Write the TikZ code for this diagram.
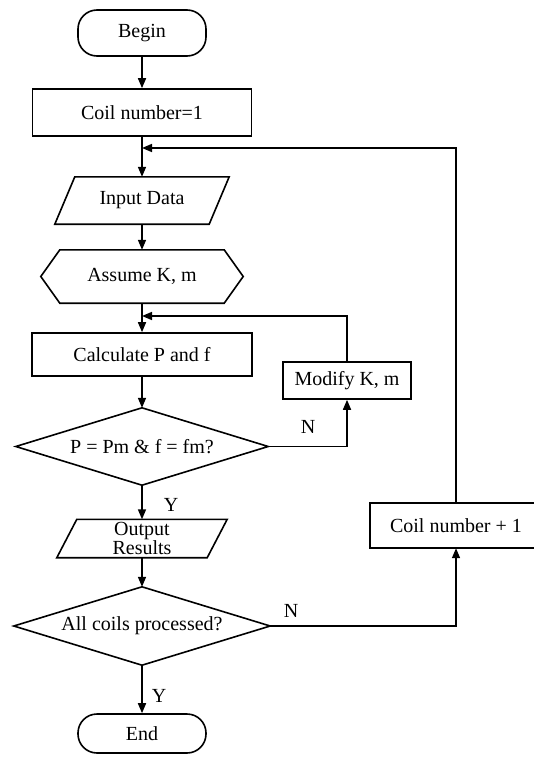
\documentclass[tikz,border=0pt]{standalone}
\usepackage{fontspec}
\setmainfont{Liberation Serif}
\usetikzlibrary{arrows.meta}
\begin{document}
\begin{tikzpicture}[x=1pt,y=-1pt,
  every node/.style={font=\fontsize{20}{19}\selectfont, inner sep=0pt},
  lw/.style={line width=1.6pt},
  term/.style={draw, lw, rectangle, rounded corners=19pt, minimum width=128pt},
  boxnode/.style={draw, lw, rectangle},
  plainnode/.style={rectangle},
  arr/.style={lw, -{Triangle[length=10pt,width=8pt]}},
  shapeline/.style={lw, line join=miter}
]
\useasboundingbox (0,0) rectangle (534,760);
\clip (0,0) rectangle (534,760);

% main column
\node[term, minimum height=46pt] (begin) at (142,33) {Begin};
\node[boxnode, minimum width=219pt, minimum height=47pt] (c1) at (142,112.5) {Coil number=1};
\coordinate (j1) at (142,148);
\node[plainnode, minimum width=154pt, minimum height=47pt] (in) at (142,200.5) {Input Data};
\draw[shapeline] ([xshift=10pt]in.north west) -- ([xshift=10pt]in.north east)
  -- ([xshift=-10pt]in.south east) -- ([xshift=-10pt]in.south west) -- cycle;
\node[plainnode, minimum width=164pt, minimum height=53pt] (hex) at (142,276.5) {Assume K, m};
\draw[shapeline] (hex.north west) -- (hex.north east) -- ([xshift=19pt]hex.east)
  -- (hex.south east) -- (hex.south west) -- ([xshift=-19pt]hex.west) -- cycle;
\coordinate (j2) at (142,316);
\node[boxnode, minimum width=220pt, minimum height=43pt] (calc) at (142,354.5) {Calculate P and f};
\node[plainnode, minimum width=252pt, minimum height=77pt] (d1) at (142,446.5) {P = Pm \& f = fm?};
\draw[shapeline] (d1.north) -- (d1.east) -- (d1.south) -- (d1.west) -- cycle;
\node[boxnode, minimum width=128pt, minimum height=37pt] (mod) at (347,380.5) {Modify K, m};
\node[plainnode, minimum width=150pt, minimum height=38pt, align=center] (out) at (142,538.5) {Output\\Results};
\draw[shapeline] ([xshift=10pt]out.north west) -- ([xshift=10pt]out.north east)
  -- ([xshift=-10pt]out.south east) -- ([xshift=-10pt]out.south west) -- cycle;
\node[plainnode, minimum width=256pt, minimum height=78pt] (d2) at (142,626) {All coils processed?};
\draw[shapeline] (d2.north) -- (d2.east) -- (d2.south) -- (d2.west) -- cycle;
\node[plainnode, minimum width=172pt, minimum height=45pt] (cp) at (456,525.5) {Coil number + 1};
\draw[shapeline] ([xshift=30pt]cp.north east) -- (cp.north west) -- (cp.south west) -- ([xshift=30pt]cp.south east);
\node[term, minimum height=39pt] (end) at (142,733.5) {End};

% labels
\node (n1) at (308,427) {N};
\node (y1) at (171,505) {Y};
\node (n2) at (291,611) {N};
\node (y2) at (159,696) {Y};

% connectors
\draw[arr] (begin.south) -- (c1.north);
\draw[arr] (c1.south) -- (in.north);
\draw[arr] (in.south) -- (hex.north);
\draw[arr] (hex.south) -- (calc.north);
\draw[arr] (calc.south) -- (d1.north);
\draw[arr] (d1.east) -| (mod.south);
\draw[arr] (mod.north) |- (j2);
\draw[arr] (d1.south) -- (out.north);
\draw[arr] (out.south) -- (d2.north);
\draw[arr] (d2.east) -| (cp.south);
\draw[arr] (cp.north) |- (j1);
\draw[arr] (d2.south) -- (end.north);
\end{tikzpicture}
\end{document}
